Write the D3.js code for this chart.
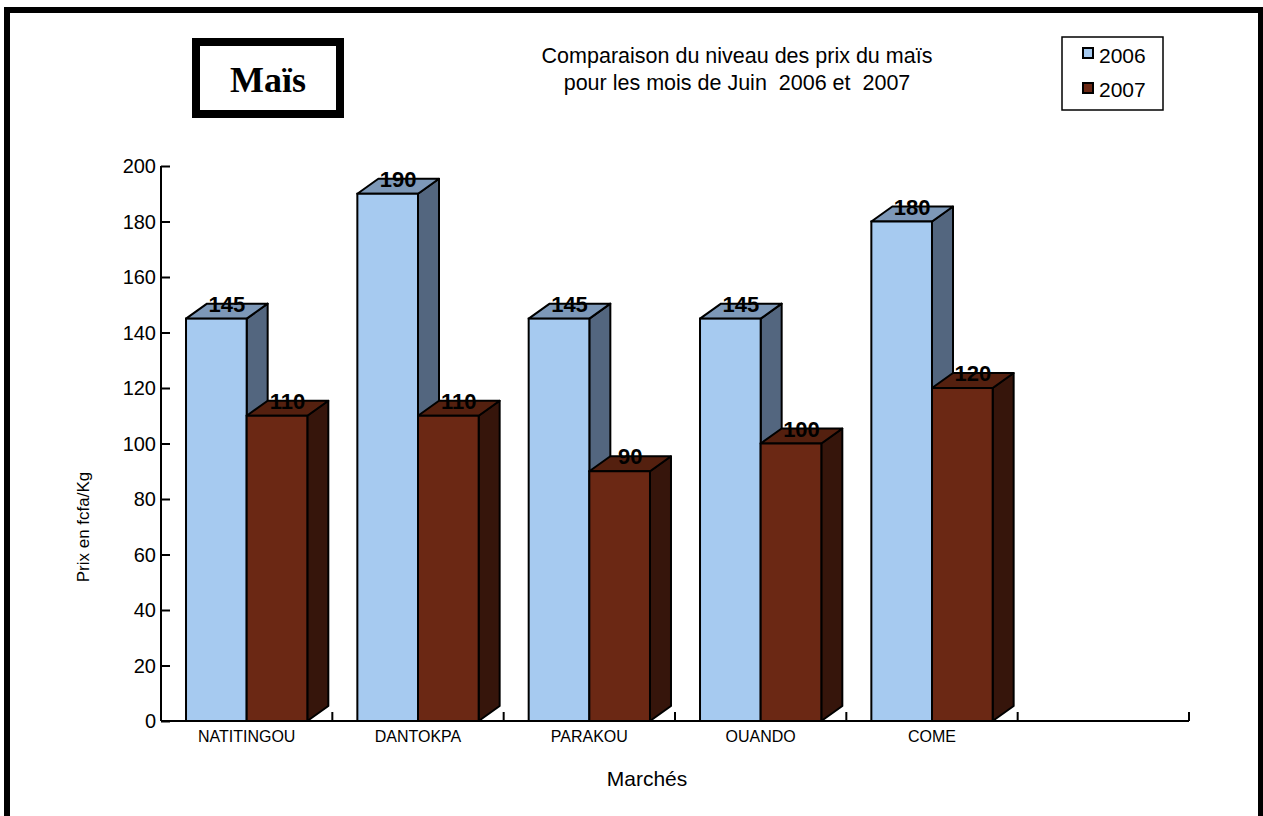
<!DOCTYPE html>
<html>
<head>
<meta charset="utf-8">
<script src="https://cdn.jsdelivr.net/npm/d3@7"></script>
<style>
  body { margin: 0; background: #ffffff; }
  text { font-family: Arial, "Liberation Sans", sans-serif; }
</style>
</head>
<body>
<div id="chart"></div>
<script>
// categories on the x axis (last slot is empty in the original)
var markets = ["NATITINGOU", "DANTOKPA", "PARAKOU", "OUANDO", "COME", ""];
var years = ["2006", "2007"];
var prix2006 = [145, 190, 145, 145, 180];
var prix2007 = [110, 110, 90, 100, 120];
var yTicks = [0, 20, 40, 60, 80, 100, 120, 140, 160, 180, 200];

var width = 1263, height = 816;
var depthX = 21, depthY = 15;

// front / top / side colours for each series
var faces = {
  "2006": { front: "#a6caf0", top: "#7d98b8", side: "#53667f" },
  "2007": { front: "#6b2814", top: "#54200f", side: "#36150b" }
};

var svg = d3.select("#chart").append("svg")
  .attr("width", width)
  .attr("height", height);

// heavy outer frame
svg.append("rect")
  .attr("x", 7)
  .attr("y", 10)
  .attr("width", 1254)
  .attr("height", 900)
  .attr("fill", "none")
  .attr("stroke", "#000")
  .attr("stroke-width", 6);

var x0 = d3.scaleBand()
  .domain(markets)
  .range([161, 1189]);

var x1 = d3.scaleBand()
  .domain(years)
  .range([x0.bandwidth() * 0.146, x0.bandwidth() * 0.854]);

var y = d3.scaleLinear()
  .domain([0, 200])
  .range([721, 166]);

//build rows so each bar knows its market, year and value
var rows = [];
for (var i = 0; i < prix2006.length; i++)
{
  rows.push({ market: markets[i], year: "2006", value: prix2006[i] });
  rows.push({ market: markets[i], year: "2007", value: prix2007[i] });
}

// y axis, ticks pointing into the plot
var yAxis = d3.axisRight(y)
  .tickValues(yTicks)
  .tickSize(9)
  .tickFormat("");
var gy = svg.append("g")
  .attr("transform", "translate(161,0)")
  .call(yAxis);
gy.select(".domain").attr("stroke-width", 2).attr("d", "M0," + y(200) + "V" + y(0));
gy.selectAll(".tick line").attr("stroke-width", 2);

svg.append("g")
  .selectAll("text")
  .data(yTicks)
  .enter()
  .append("text")
  .attr("x", 156)
  .attr("y", function(d) { return y(d) + 7; })
  .attr("text-anchor", "end")
  .style("font-size", "20px")
  .text(function(d) { return d; });

// x axis with ticks at the band edges
var edges = markets.map(function(m) { return x0(m); }).concat([1189]);
var gx = svg.append("g");
gx.append("line")
  .attr("x1", 161)
  .attr("x2", 1189)
  .attr("y1", y(0))
  .attr("y2", y(0))
  .attr("stroke", "#000")
  .attr("stroke-width", 2);
gx.selectAll(".xtick")
  .data(edges.slice(1))
  .enter()
  .append("line")
  .attr("class", "xtick")
  .attr("x1", function(d) { return d; })
  .attr("x2", function(d) { return d; })
  .attr("y1", y(0))
  .attr("y2", y(0) - 9)
  .attr("stroke", "#000")
  .attr("stroke-width", 2);

gx.selectAll(".xlabel")
  .data(markets)
  .enter()
  .append("text")
  .attr("class", "xlabel")
  .attr("x", function(d) { return x0(d) + x0.bandwidth() / 2; })
  .attr("y", 742)
  .attr("text-anchor", "middle")
  .style("font-size", "16px")
  .text(function(d) { return d; });

// 3d columns: side, top then front
var bars = svg.append("g")
  .selectAll(".bar")
  .data(rows)
  .enter()
  .append("g")
  .attr("class", "bar");

bars.append("path")
  .attr("d", function(d)
  {
    var xr = x0(d.market) + x1(d.year) + x1.bandwidth();
    return "M" + xr + "," + y(d.value) + "L" + (xr + depthX) + "," + (y(d.value) - depthY) +
      "L" + (xr + depthX) + "," + (y(0) - depthY) + "L" + xr + "," + y(0) + "Z";
  })
  .attr("fill", function(d) { return faces[d.year].side; })
  .attr("stroke", "#000")
  .attr("stroke-width", 2)
  .attr("stroke-linejoin", "round");

bars.append("path")
  .attr("d", function(d)
  {
    var xl = x0(d.market) + x1(d.year);
    var xr = xl + x1.bandwidth();
    var yt = y(d.value);
    return "M" + xl + "," + yt + "L" + (xl + depthX) + "," + (yt - depthY) +
      "L" + (xr + depthX) + "," + (yt - depthY) + "L" + xr + "," + yt + "Z";
  })
  .attr("fill", function(d) { return faces[d.year].top; })
  .attr("stroke", "#000")
  .attr("stroke-width", 2)
  .attr("stroke-linejoin", "round");

bars.append("rect")
  .attr("x", function(d) { return x0(d.market) + x1(d.year); })
  .attr("y", function(d) { return y(d.value); })
  .attr("width", x1.bandwidth())
  .attr("height", function(d) { return y(0) - y(d.value); })
  .attr("fill", function(d) { return faces[d.year].front; })
  .attr("stroke", "#000")
  .attr("stroke-width", 2);

// value labels sitting on the top faces
svg.append("g")
  .selectAll("text")
  .data(rows)
  .enter()
  .append("text")
  .attr("x", function(d) { return x0(d.market) + x1(d.year) + x1.bandwidth() / 2 + depthX / 2; })
  .attr("y", function(d) { return y(d.value) - 7; })
  .attr("text-anchor", "middle")
  .style("font-size", "22px")
  .style("font-weight", "bold")
  .text(function(d) { return d.value; });

// axis titles
svg.append("text")
  .attr("transform", "translate(89,527) rotate(-90)")
  .attr("text-anchor", "middle")
  .style("font-size", "17px")
  .text("Prix en fcfa/Kg");

svg.append("text")
  .attr("x", 647)
  .attr("y", 786)
  .attr("text-anchor", "middle")
  .style("font-size", "21px")
  .text("Marchés");

// chart title
svg.append("text")
  .attr("x", 737)
  .attr("y", 63)
  .attr("text-anchor", "middle")
  .style("font-size", "21.5px")
  .text("Comparaison du niveau des prix du maïs");
svg.append("text")
  .attr("x", 737)
  .attr("y", 90)
  .attr("text-anchor", "middle")
  .style("font-size", "21.5px")
  .style("white-space", "pre")
  .text("pour les mois de Juin  2006 et  2007");

// boxed product name
svg.append("rect")
  .attr("x", 196)
  .attr("y", 42)
  .attr("width", 144)
  .attr("height", 72)
  .attr("fill", "#fff")
  .attr("stroke", "#000")
  .attr("stroke-width", 8);
svg.append("text")
  .attr("x", 268)
  .attr("y", 92)
  .attr("text-anchor", "middle")
  .style("font-family", "'Liberation Serif', 'Times New Roman', serif")
  .style("font-size", "36px")
  .style("font-weight", "bold")
  .text("Maïs");

// legend
var legend = svg.append("g");
legend.append("rect")
  .attr("x", 1062)
  .attr("y", 37)
  .attr("width", 101)
  .attr("height", 73)
  .attr("fill", "#fff")
  .attr("stroke", "#000")
  .attr("stroke-width", 1.5);
legend.selectAll(".key")
  .data(years)
  .enter()
  .append("rect")
  .attr("class", "key")
  .attr("x", 1083)
  .attr("y", function(d, i) { return 48 + i * 35; })
  .attr("width", 10)
  .attr("height", 10)
  .attr("fill", function(d) { return faces[d].front; })
  .attr("stroke", "#000")
  .attr("stroke-width", 2);
legend.selectAll(".keytext")
  .data(years)
  .enter()
  .append("text")
  .attr("class", "keytext")
  .attr("x", 1099)
  .attr("y", function(d, i) { return 63 + i * 34; })
  .style("font-size", "21px")
  .text(function(d) { return d; });
</script>
</body>
</html>
